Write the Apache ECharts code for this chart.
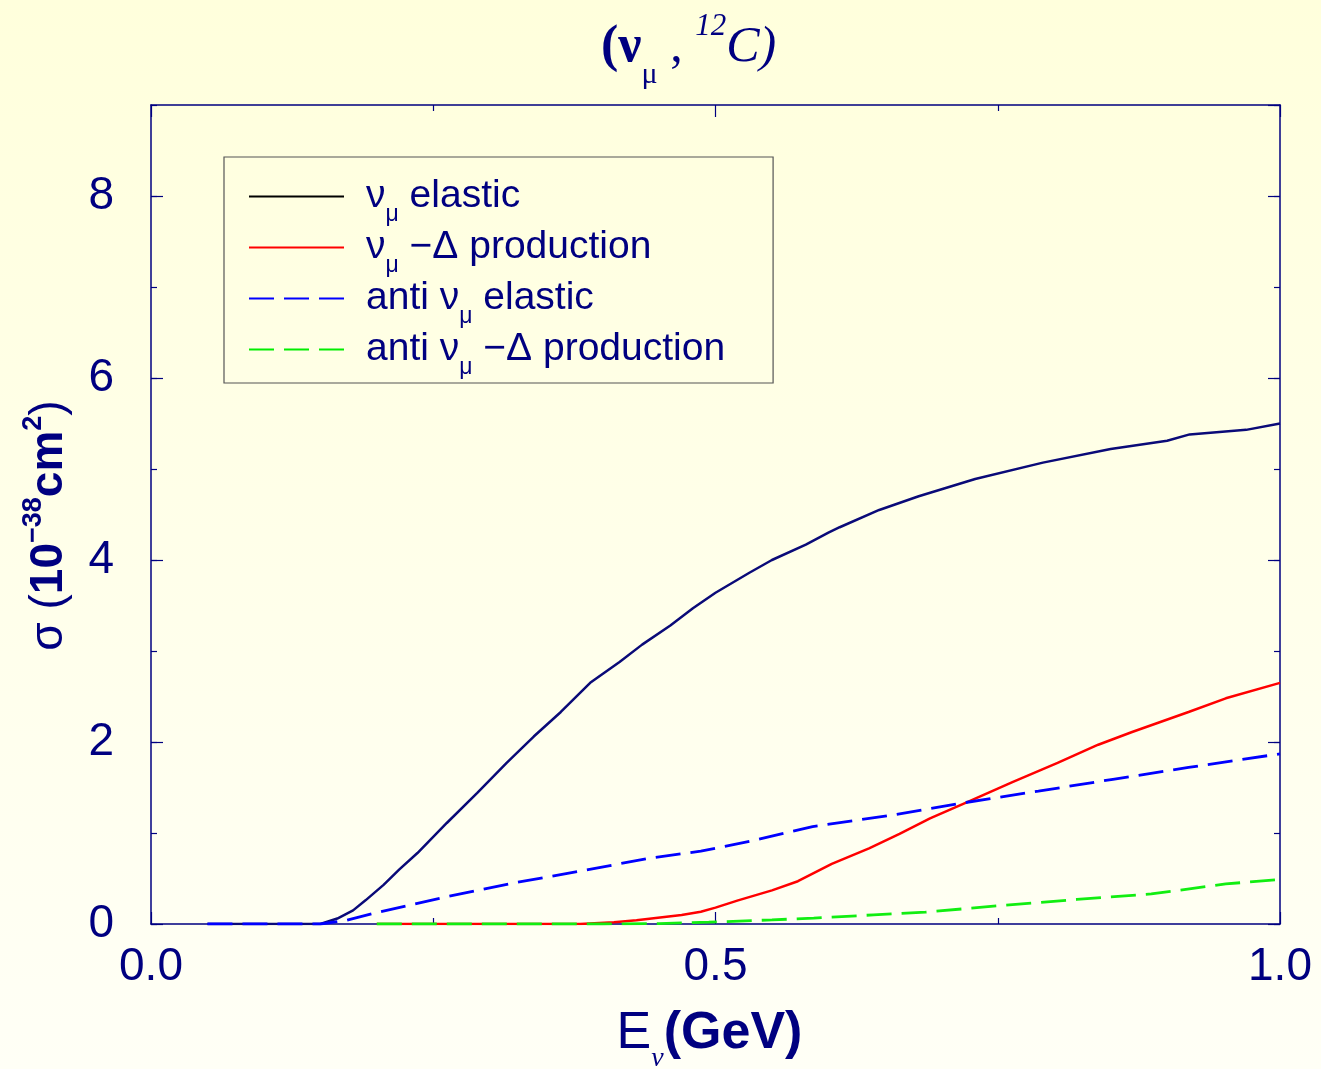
<!DOCTYPE html>
<html>
<head>
<meta charset="utf-8">
<title>(ν_μ, 12C) cross sections</title>
<script src="https://cdn.jsdelivr.net/npm/echarts@6/dist/echarts.min.js"></script>
<style>
  html, body { margin: 0; padding: 0; }
  #chart { width: 1321px; height: 1069px; }
</style>
</head>
<body>
<div id="chart"></div>
<script>
// Neutrino energy E (GeV) and cross section sigma (10^-38 cm^2) per channel
const nuElasticE = [0.05, 0.10, 0.15, 0.165, 0.179, 0.19, 0.206, 0.22, 0.236, 0.262, 0.289, 0.315, 0.339, 0.363, 0.389, 0.415, 0.435, 0.46, 0.48, 0.50, 0.53, 0.55, 0.58, 0.60, 0.61, 0.645, 0.68, 0.73, 0.79, 0.85, 0.90, 0.92, 0.97, 1.00];
const nuElasticSigma = [0, 0, 0, 0.06, 0.15, 0.26, 0.43, 0.60, 0.78, 1.11, 1.44, 1.77, 2.06, 2.33, 2.65, 2.88, 3.07, 3.28, 3.47, 3.64, 3.86, 4.00, 4.17, 4.30, 4.36, 4.55, 4.70, 4.89, 5.07, 5.22, 5.31, 5.38, 5.43, 5.50];

const nuDeltaE = [0.20, 0.30, 0.38, 0.41, 0.43, 0.47, 0.487, 0.50, 0.52, 0.55, 0.573, 0.603, 0.636, 0.663, 0.69, 0.723, 0.763, 0.803, 0.839, 0.869, 0.919, 0.952, 1.00];
const nuDeltaSigma = [0, 0, 0, 0.02, 0.04, 0.10, 0.135, 0.18, 0.26, 0.37, 0.47, 0.66, 0.83, 0.99, 1.16, 1.34, 1.56, 1.77, 1.97, 2.11, 2.33, 2.48, 2.65];

const antiElasticE = [0.05, 0.10, 0.15, 0.173, 0.203, 0.262, 0.321, 0.38, 0.44, 0.487, 0.531, 0.586, 0.653, 0.719, 0.786, 0.852, 0.919, 1.00];
const antiElasticSigma = [0, 0, 0, 0.04, 0.135, 0.30, 0.45, 0.58, 0.72, 0.80, 0.91, 1.07, 1.19, 1.33, 1.46, 1.59, 1.72, 1.87];

const antiDeltaE = [0.20, 0.30, 0.40, 0.45, 0.494, 0.55, 0.587, 0.64, 0.686, 0.75, 0.82, 0.886, 0.952, 1.00];
const antiDeltaSigma = [0, 0, 0, 0.005, 0.02, 0.045, 0.065, 0.10, 0.13, 0.20, 0.27, 0.33, 0.44, 0.49];

// Axis ticks
const xTickLabels = ['0.0', '0.5', '1.0'];
const yTickLabels = ['0', '2', '4', '6', '8'];

const seriesNames = ['nu elastic', 'nu Delta production', 'anti nu elastic', 'anti nu Delta production'];
const legendTexts = {
  'nu elastic': '{g| }{t|ν}{s|μ}{t| elastic}',
  'nu Delta production': '{g| }{t|ν}{s|μ}{t| −Δ production}',
  'anti nu elastic': '{g| }{t|anti ν}{s|μ}{t| elastic}',
  'anti nu Delta production': '{g| }{t|anti ν}{s|μ}{t| −Δ production}'
};

const NAVY = '#000080';
const SANS = 'Liberation Sans';
const SERIF = 'Liberation Serif';

const pairs = (xs, ys) => xs.map((x, i) => [x, ys[i]]);

const frameLine = { show: true, onZero: false, lineStyle: { color: NAVY, width: 1.5 } };
const tickStyle = { color: NAVY, width: 1.2 };

// Sub/superscripts: a tall line box, with the small glyphs shifted by
// padding on one side (text moves by half the padding).
function xAxisDef(position, withLabels) {
  const ax = {
    type: 'value', position: position, min: 0, max: 1, interval: 0.5,
    axisLine: frameLine,
    axisTick: { show: true, inside: true, length: 12, lineStyle: tickStyle },
    minorTick: { show: true, splitNumber: 2, length: 6, lineStyle: tickStyle },
    splitLine: { show: false }, minorSplitLine: { show: false },
    axisLabel: { show: false }
  };
  if (withLabels) {
    ax.axisLabel = {
      show: true, margin: 20, fontSize: 46, color: NAVY, fontFamily: SANS,
      formatter: v => xTickLabels[Math.round(v / 0.5)]
    };
    ax.name = '{r|E}{s|ν}{b|(GeV)}{e| }';
    ax.nameLocation = 'middle';
    ax.nameGap = 66;
    ax.nameTextStyle = {
      rich: {
        r: { fontSize: 52, lineHeight: 84, color: NAVY, fontFamily: SANS },
        s: { fontSize: 28, lineHeight: 28, padding: [50, 0, 0, 0], color: NAVY, fontFamily: SERIF, fontStyle: 'italic' },
        b: { fontSize: 52, lineHeight: 84, color: NAVY, fontFamily: SANS, fontWeight: 'bold' },
        e: { width: 12, fontSize: 10, lineHeight: 84 }
      }
    };
  }
  return ax;
}

function yAxisDef(position, interval, tickLen, withLine, withLabels) {
  const ax = {
    type: 'value', position: position, min: 0, max: 9, interval: interval,
    axisLine: withLine ? frameLine : { show: false, onZero: false },
    axisTick: { show: true, inside: true, length: tickLen, lineStyle: tickStyle },
    splitLine: { show: false },
    axisLabel: { show: false }
  };
  if (withLabels) {
    ax.axisLabel = {
      show: true, margin: 37, fontSize: 46, color: NAVY, fontFamily: SANS,
      showMaxLabel: false,
      formatter: v => (v % 2 === 0 && v <= 8) ? yTickLabels[v / 2] : ''
    };
    ax.name = '{r|σ (}{b|10}{p|−38}{b|cm}{p|2}{r|)}{e| }';
    ax.nameLocation = 'middle';
    ax.nameGap = 58;
    ax.nameTextStyle = {
      rich: {
        r: { fontSize: 46, lineHeight: 72, color: NAVY, fontFamily: SANS },
        b: { fontSize: 46, lineHeight: 72, color: NAVY, fontFamily: SANS, fontWeight: 'bold' },
        p: { fontSize: 27, lineHeight: 28, padding: [0, 0, 30, 0], color: NAVY, fontFamily: SANS, fontWeight: 'bold' },
        e: { width: 22, fontSize: 10, lineHeight: 72 }
      }
    };
  }
  return ax;
}

function lineSeries(name, xs, ys, color, dashed, width) {
  return {
    name: name, type: 'line', data: pairs(xs, ys),
    symbol: 'none', showSymbol: false,
    lineStyle: { color: color, width: width, type: dashed ? [25, 10] : 'solid' },
    itemStyle: { color: color },
    silent: true, animation: false
  };
}

const hiddenMarker = { color: 'rgba(0,0,0,0)', borderWidth: 0, opacity: 0 };

const chart = echarts.init(document.getElementById('chart'), null, { renderer: 'canvas' });

chart.setOption({
  animation: false,
  backgroundColor: {
    type: 'linear', x: 0, y: 0, x2: 0, y2: 1,
    colorStops: [{ offset: 0, color: '#ffffdc' }, { offset: 1, color: '#fffff6' }]
  },
  title: {
    text: '{b|(ν}{s|μ}{n| , }{p|12}{i|C)}',
    left: 601, top: 1,
    padding: 0,
    textStyle: {
      fontWeight: 'normal',
      rich: {
        b: { fontSize: 52, lineHeight: 94, color: NAVY, fontFamily: SERIF, fontWeight: 'bold' },
        s: { fontSize: 30, lineHeight: 30, padding: [54, 0, 0, 0], color: NAVY, fontFamily: SERIF, fontWeight: 'normal' },
        n: { fontSize: 50, lineHeight: 94, color: NAVY, fontFamily: SERIF, fontWeight: 'normal' },
        p: { fontSize: 31, lineHeight: 32, padding: [0, 0, 42, 0], color: NAVY, fontFamily: SERIF, fontStyle: 'italic', fontWeight: 'normal' },
        i: { fontSize: 50, lineHeight: 94, color: NAVY, fontFamily: SERIF, fontStyle: 'italic', fontWeight: 'normal' }
      }
    }
  },
  grid: { left: 151, right: 41, top: 105, bottom: 145, containLabel: false, outerBoundsMode: 'none' },
  legend: {
    orient: 'vertical', left: 224, top: 157,
    padding: [10, 48, 4, 24],
    borderColor: '#555555', borderWidth: 1.2, borderRadius: 0,
    backgroundColor: 'transparent',
    itemWidth: 95, itemHeight: 14, itemGap: -8,
    selectedMode: false,
    formatter: name => legendTexts[name],
    textStyle: {
      color: NAVY, fontSize: 39, fontFamily: SANS,
      rich: {
        g: { width: 17, fontSize: 39, lineHeight: 58 },
        t: { fontSize: 39, lineHeight: 58, color: NAVY, fontFamily: SANS },
        s: { fontSize: 23, lineHeight: 22, padding: [36, 0, 0, 0], color: NAVY, fontFamily: SANS }
      }
    },
    data: [
      { name: seriesNames[0], lineStyle: { color: '#000000', width: 2 }, itemStyle: hiddenMarker },
      { name: seriesNames[1], lineStyle: { color: '#ff0000', width: 2 }, itemStyle: hiddenMarker },
      { name: seriesNames[2], lineStyle: { color: '#0000ff', width: 2 }, itemStyle: hiddenMarker },
      { name: seriesNames[3], lineStyle: { color: '#00ee00', width: 2 }, itemStyle: hiddenMarker }
    ]
  },
  xAxis: [xAxisDef('bottom', true), xAxisDef('top', false)],
  yAxis: [
    yAxisDef('left', 2, 12, true, true),
    yAxisDef('left', 1, 6, false, false),
    yAxisDef('right', 2, 12, true, false),
    yAxisDef('right', 1, 6, false, false)
  ],
  series: [
    lineSeries(seriesNames[0], nuElasticE, nuElasticSigma, '#0a0a78', false, 2.5),
    lineSeries(seriesNames[1], nuDeltaE, nuDeltaSigma, '#ff0000', false, 2.5),
    lineSeries(seriesNames[2], antiElasticE, antiElasticSigma, '#0000ff', true, 2.8),
    lineSeries(seriesNames[3], antiDeltaE, antiDeltaSigma, '#11ee11', true, 2.8)
  ]
});
</script>
</body>
</html>
